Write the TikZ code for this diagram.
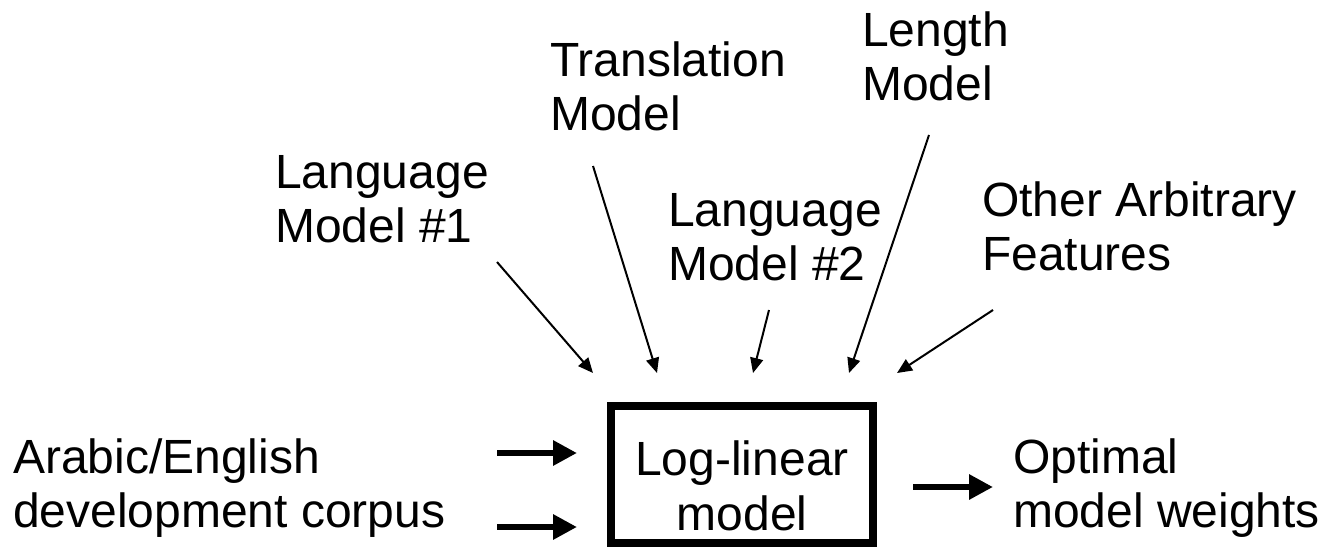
\documentclass[tikz,border=0pt]{standalone}
\usepackage{fontspec}
\setmainfont{Liberation Sans}
\usetikzlibrary{arrows.meta}
\begin{document}
\begin{tikzpicture}[x=1pt,y=-1pt,
  lbl/.style={anchor=base west,inner sep=0pt,align=left,font=\fontsize{48}{54}\selectfont},
  thin/.style={line width=2pt,-{Triangle[length=15pt,width=13pt]}},
  thick/.style={line width=6pt,-{Triangle[length=24pt,width=24pt]}},
  box/.style={draw,line width=8pt,inner sep=0pt},
  boxtext/.style={anchor=base,inner sep=0pt,align=center,font=\fontsize{48}{55}\selectfont}]
\useasboundingbox (0,0) rectangle (1329,549);
\node[lbl] (lm1) at (275,242) {Language\\Model \#1};
\node[lbl] (tm) at (550,130) {Translation\\Model};
\node[lbl] (lm2) at (668,280) {Language\\Model \#2};
\node[lbl] (len) at (862,100) {Length\\Model};
\node[lbl] (oaf) at (982,270) {Other Arbitrary\\Features};
\node[lbl] (corp) at (13,527) {Arabic/English\\development corpus};
\node[lbl] (opt) at (1013,527) {Optimal\\model weights};
\node[box,minimum width=262pt,minimum height=137pt] (llm) at (742,474.5) {};
\node[boxtext] (llmt) at (742,530) {Log-linear\\model};
\coordinate (a1s) at (497,262); \coordinate (a1e) at (593,373);
\coordinate (a2s) at (593,166); \coordinate (a2e) at (657,373);
\coordinate (a3s) at (769,310); \coordinate (a3e) at (753,373);
\coordinate (a4s) at (929,135); \coordinate (a4e) at (849,373);
\coordinate (a5s) at (993,310); \coordinate (a5e) at (897,373);
\coordinate (c1s) at (497,453); \coordinate (c1e) at (577,453);
\coordinate (c2s) at (497,527); \coordinate (c2e) at (577,527);
\coordinate (o1s) at (913,487); \coordinate (o1e) at (993,487);
\draw[thin] (a1s) -- (a1e);
\draw[thin] (a2s) -- (a2e);
\draw[thin] (a3s) -- (a3e);
\draw[thin] (a4s) -- (a4e);
\draw[thin] (a5s) -- (a5e);
\draw[thick] (c1s) -- (c1e);
\draw[thick] (c2s) -- (c2e);
\draw[thick] (o1s) -- (o1e);
\end{tikzpicture}
\end{document}
